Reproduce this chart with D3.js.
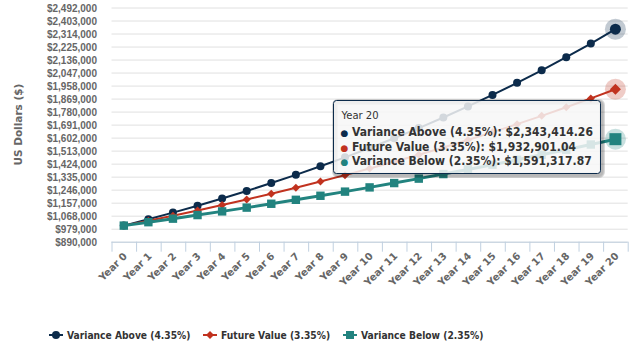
<!DOCTYPE html>
<html>
<head>
<meta charset="utf-8">
<script src="https://cdnjs.cloudflare.com/ajax/libs/d3/7.8.5/d3.min.js"></script>
<style>
  body { margin: 0; background: #fff; }
  svg { display: block; font-family: "DejaVu Sans", sans-serif; }
</style>
</head>
<body>
<svg id="chart" width="629" height="347"></svg>
<script>
// Data
var years = ["Year 0", "Year 1", "Year 2", "Year 3", "Year 4", "Year 5", "Year 6",
  "Year 7", "Year 8", "Year 9", "Year 10", "Year 11", "Year 12", "Year 13", "Year 14",
  "Year 15", "Year 16", "Year 17", "Year 18", "Year 19", "Year 20"];
var varianceAbove = [1000000, 1043500, 1088892.25, 1136259.06, 1185686.33, 1237263.69,
  1291084.66, 1347246.84, 1405852.08, 1467006.65, 1530821.44, 1597412.17, 1666899.60,
  1739409.73, 1815074.05, 1894029.77, 1976420.06, 2062394.33, 2152108.49, 2245725.21,
  2343414.26];
var futureValue = [1000000, 1033500, 1068122.25, 1103904.35, 1140885.14, 1179104.79,
  1218604.80, 1259428.06, 1301618.90, 1345223.13, 1390288.11, 1436862.76, 1484997.66,
  1534745.08, 1586159.04, 1639295.37, 1694211.76, 1750967.85, 1809625.27, 1870247.72,
  1932901.04];
var varianceBelow = [1000000, 1023500, 1047552.25, 1072169.73, 1097365.72, 1123153.81,
  1149547.92, 1176562.30, 1204211.52, 1232510.49, 1261474.49, 1291119.14, 1321460.44,
  1352514.76, 1384298.86, 1416829.88, 1450125.38, 1484203.33, 1519082.11, 1554780.54,
  1591317.87];
var yTicks = [890000, 979000, 1068000, 1157000, 1246000, 1335000, 1424000, 1513000,
  1602000, 1691000, 1780000, 1869000, 1958000, 2047000, 2136000, 2225000, 2314000,
  2403000, 2492000];
var seriesNames = ["Variance Above (4.35%)", "Future Value (3.35%)", "Variance Below (2.35%)"];
var seriesColors = ["#0c2b4b", "#c1321f", "#22837f"];
var hoverIdx = 20;

var series = [
  {name: seriesNames[0], values: varianceAbove, color: seriesColors[0], shape: "circle", width: 2},
  {name: seriesNames[1], values: futureValue, color: seriesColors[1], shape: "diamond", width: 2},
  {name: seriesNames[2], values: varianceBelow, color: seriesColors[2], shape: "square", width: 3}
];

var svg = d3.select("#chart"),
    pLeft = 111.5, pRight = 627.7, pTop = 7.5, pBottom = 241.7;

var x = d3.scaleBand().domain(years).range([pLeft, pRight]);
var xb = d3.scaleLinear().domain([0, years.length]).range([pLeft, pRight]);
var y = d3.scaleLinear().domain([890000, 2492000]).range([pBottom, pTop]);
var cx = function(i) { return x(years[i]) + x.bandwidth() / 2; };

// marker shapes, r = radius-ish
function marker(shape, r) {
  if (shape === "circle") return d3.symbol(d3.symbolCircle, Math.PI * r * r)();
  if (shape === "diamond") return d3.symbol(d3.symbolSquare, 2 * r * r)();
  return d3.symbol(d3.symbolSquare, 4 * r * r)();
}
function rot(shape) { return shape === "diamond" ? " rotate(45)" : ""; }

// y axis + grid
var gy = svg.append("g")
    .attr("transform", "translate(" + pLeft + ",0)")
    .call(d3.axisLeft(y).tickValues(yTicks).tickFormat(d3.format("$,"))
      .tickSize(-(pRight - pLeft)).tickPadding(14.5));
gy.select(".domain").remove();
gy.selectAll("line").attr("stroke", "#e0e0e0");
gy.selectAll("text")
    .attr("fill", "#666").attr("font-weight", "bold").attr("font-size", 10)
    .attr("dy", "0.4em");

svg.append("text")
    .attr("transform", "translate(22," + ((pTop + pBottom) / 2) + ") rotate(-90)")
    .attr("text-anchor", "middle")
    .attr("fill", "#666").attr("font-weight", "bold").attr("font-size", 10.5)
    .text("US Dollars ($)");

// x axis
var gx = svg.append("g")
    .attr("transform", "translate(0," + pBottom + ")")
    .call(d3.axisBottom(xb).tickValues(d3.range(years.length + 1)).tickFormat("").tickSize(10));
gx.selectAll("line, path").attr("stroke", "#c0d0e0");
gx.select(".domain").attr("d", "M" + pLeft + ",0.5H" + pRight);

svg.append("g").selectAll("text")
    .data(years)
  .enter().append("text")
    .attr("transform", function(d, i) {
      return "translate(" + (cx(i) + 4) + "," + (pBottom + 15) + ") rotate(-45)";
    })
    .attr("text-anchor", "end")
    .attr("fill", "#666").attr("font-weight", "bold").attr("font-size", 10)
    .text(function(d) { return d; });

// lines and markers
var line = d3.line()
    .x(function(d, i) { return cx(i); })
    .y(function(d) { return y(d); });

series.forEach(function(s) {
  var g = svg.append("g");
  g.append("path")
      .datum(s.values)
      .attr("fill", "none")
      .attr("stroke", s.color)
      .attr("stroke-width", s.width)
      .attr("d", line);
  g.selectAll(".pt")
      .data(s.values)
    .enter().append("path")
      .attr("transform", function(d, i) {
        return "translate(" + cx(i) + "," + y(d) + ")" + rot(s.shape);
      })
      .attr("d", function(d, i) {
        if (i === hoverIdx) return null;
        return marker(s.shape, s.shape === "square" ? 4.2 : 4);
      })
      .attr("fill", s.color);
  // hover halo
  var hv = s.values[hoverIdx];
  g.append("circle")
      .attr("cx", cx(hoverIdx)).attr("cy", y(hv)).attr("r", 10.5)
      .attr("fill", s.color).attr("fill-opacity", 0.25);
  g.append("path")
      .attr("transform", "translate(" + cx(hoverIdx) + "," + y(hv) + ")" + rot(s.shape))
      .attr("d", marker(s.shape, s.shape === "square" ? 6 : 5.5))
      .attr("fill", s.color);
});

// tooltip
var tip = svg.append("g").attr("transform", "translate(333.5,100.5)");
[3, 2, 1].forEach(function(k) {
  tip.append("rect")
      .attr("x", 1).attr("y", 1).attr("width", 267).attr("height", 73).attr("rx", 3)
      .attr("fill", "none").attr("stroke", "#000")
      .attr("stroke-opacity", 0.05 * k).attr("stroke-width", k * 2)
      .attr("transform", "translate(0.5,0.5)");
});
tip.append("rect")
    .attr("width", 267).attr("height", 73).attr("rx", 3)
    .attr("fill", "rgba(247,247,247,0.85)")
    .attr("stroke", seriesColors[0]).attr("stroke-width", 1);
tip.append("text")
    .attr("x", 8).attr("y", 18)
    .attr("font-size", 10).attr("fill", "#333")
    .text(years[hoverIdx]);
var fmt = d3.format("$,.2f");
series.forEach(function(s, i) {
  var ty = 35.5 + i * 14.5;
  tip.append("text")
      .attr("x", 7).attr("y", ty)
      .attr("font-size", 9).attr("fill", s.color)
      .text("\u25CF");
  tip.append("text")
      .attr("x", 18.5).attr("y", ty)
      .attr("font-family", "'DejaVu Sans Condensed', 'DejaVu Sans', sans-serif")
      .attr("font-weight", "bold").attr("font-size", 12).attr("fill", "#333")
      .text(s.name + ": " + fmt(s.values[hoverIdx]));
});

// legend
var legendX = [49, 203, 343];
var lg = svg.append("g").attr("transform", "translate(0,335)");
series.forEach(function(s, i) {
  var it = lg.append("g").attr("transform", "translate(" + legendX[i] + ",0)");
  it.append("line")
      .attr("x1", 0).attr("x2", 14)
      .attr("stroke", s.color).attr("stroke-width", 2);
  it.append("path")
      .attr("transform", "translate(7,0)" + rot(s.shape))
      .attr("d", marker(s.shape, 4))
      .attr("fill", s.color);
  it.append("text")
      .attr("x", 18).attr("dy", "0.36em")
      .attr("font-family", "'DejaVu Sans Condensed', 'DejaVu Sans', sans-serif")
      .attr("font-weight", "bold").attr("font-size", 10.2).attr("fill", "#333")
      .text(s.name);
});
</script>
</body>
</html>
